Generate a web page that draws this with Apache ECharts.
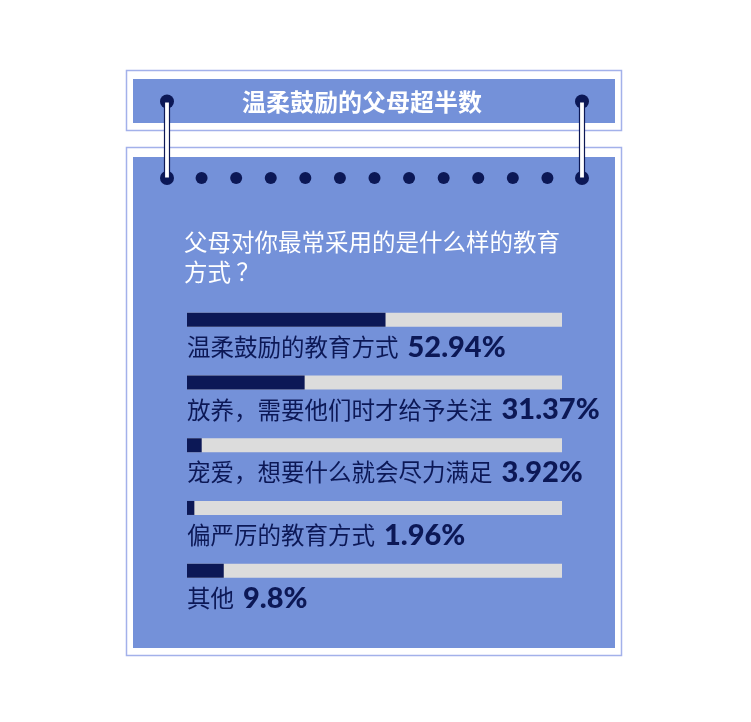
<!DOCTYPE html>
<html><head><meta charset="utf-8">
<script src="https://cdn.jsdelivr.net/npm/echarts@6/dist/echarts.min.js"></script>
<style>html,body{margin:0;padding:0;background:#fff}#c{width:751px;height:722px}</style>
</head><body><div id="c"></div>
<script>
const categories = ['温柔鼓励的教育方式','放养，需要他们时才给予关注','宠爱，想要什么就会尽力满足','偏严厉的教育方式','其他'];
const values = [52.94, 31.37, 3.92, 1.96, 9.8];
const titleText = '温柔鼓励的父母超半数';
const questionText = '父母对你最常采用的是什么样的教育\n方式 ？';

const NAVY = '#0c1856', FILL = '#7491d9', FRAME = '#a3b1ea', TRACK = '#dcdcdc';
const cjk = '"Noto Sans CJK SC", sans-serif';

const graphics = [];
// frames
graphics.push({type:'rect', shape:{x:126.5,y:70.5,width:495,height:60}, style:{fill:'#fff', stroke:FRAME, lineWidth:1.5}, z:0});
graphics.push({type:'rect', shape:{x:133,y:79,width:482,height:44}, style:{fill:FILL}, z:1});
graphics.push({type:'rect', shape:{x:126.5,y:147.5,width:495,height:508}, style:{fill:'#fff', stroke:FRAME, lineWidth:1.5}, z:0});
graphics.push({type:'rect', shape:{x:133,y:157,width:482,height:491}, style:{fill:FILL}, z:1});
// title
graphics.push({type:'text', x:362, y:102, style:{text:titleText, fill:'#fff', font:'bold 24px '+cjk, align:'center', verticalAlign:'middle'}, z:5});
// question
graphics.push({type:'text', x:184, y:227, style:{text:questionText, fill:'#fff', font:'23.5px '+cjk, lineHeight:30, align:'left', verticalAlign:'top'}, z:5});
// dots row
const dotXs = [];
for (let i = 0; i < 13; i++) dotXs.push(167 + i * (582 - 167) / 12);
dotXs.forEach((x, i) => {
  const r = (i === 0 || i === 12) ? 7 : 6;
  graphics.push({type:'circle', shape:{cx:x, cy:178, r:r}, style:{fill:NAVY}, z:6});
});
// header dots and connectors
[167, 582].forEach(x => {
  graphics.push({type:'circle', shape:{cx:x, cy:101.5, r:7}, style:{fill:NAVY}, z:6});
  graphics.push({type:'rect', shape:{x:x-2.5, y:102, width:5, height:76}, style:{fill:'#fff', stroke:NAVY, lineWidth:1.2}, z:7});
});

const chart = echarts.init(document.getElementById('c'), null, {renderer:'canvas'});
chart.setOption({
  animation:false,
  backgroundColor:'#fff',
  graphic: graphics,
  grid:{left:187, width:375, top:288.5, height:313.5, containLabel:false},
  xAxis:{type:'value', min:0, max:100, show:false},
  yAxis:{type:'category', data:categories, inverse:true, show:false},
  series:[{
    type:'bar', data:values, barWidth:14, z:10,
    itemStyle:{color:NAVY},
    showBackground:true,
    backgroundStyle:{color:TRACK},
    label:{
      show:true, position:[0, 19], align:'left', verticalAlign:'top',
      formatter: p => '{n|' + p.name + '}{v|' + p.value + '%}',
      rich:{
        n:{fontFamily:'"Noto Sans CJK SC", sans-serif', fontSize:23.5, color:NAVY, verticalAlign:'bottom', lineHeight:30, padding:[0,9,3,0]},
        v:{fontFamily:'Lato, "Liberation Sans", sans-serif', fontWeight:900, fontSize:29, color:NAVY, verticalAlign:'bottom', lineHeight:30}
      }
    }
  }]
});
</script></body></html>
